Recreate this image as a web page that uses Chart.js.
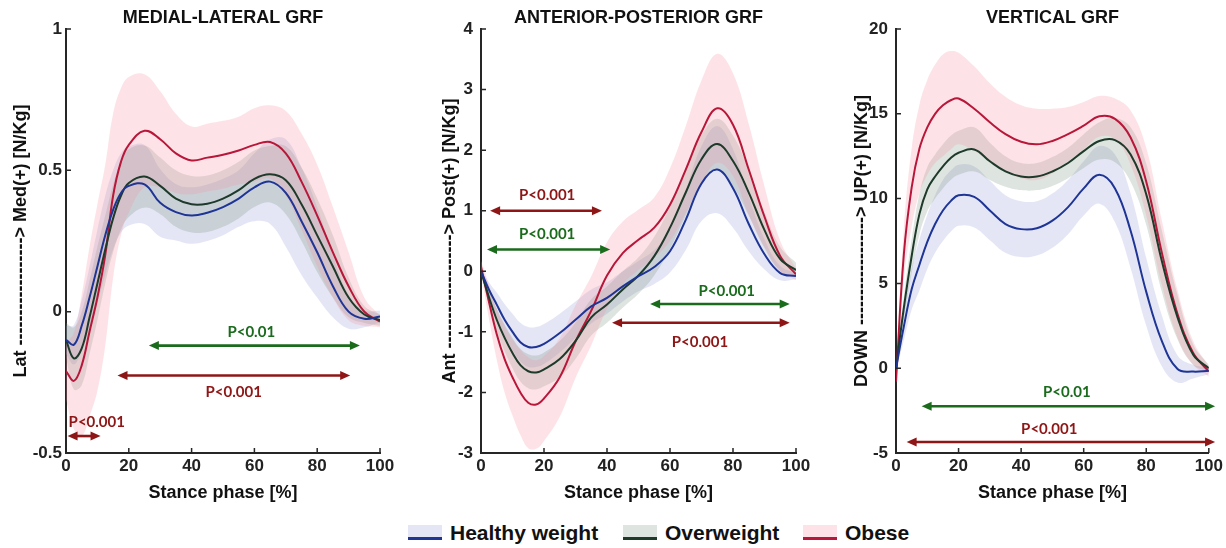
<!DOCTYPE html>
<html>
<head>
<meta charset="utf-8">
<script src="https://cdn.jsdelivr.net/npm/chart.js@4.4.0/dist/chart.umd.min.js"></script>
<style>
  body { margin: 0; background: #fff; width: 1226px; height: 548px; position: relative; overflow: hidden; font-family: 'Liberation Sans', Arial, sans-serif; }
  canvas { position: absolute; top: 0; }
  #legend { position: absolute; top: 521px; left: 0; width: 1226px; height: 24px; }
  .item { position: absolute; top: 0; height: 24px; }
  .swatch { position: absolute; left: 0; top: 4px; width: 34px; height: 15px; }
  .swatch span { position: absolute; left: 0; bottom: 0; width: 100%; height: 3px; }
  .lbl { position: absolute; left: 42px; top: 0; font-weight: bold; font-size: 21px; line-height: 24px; white-space: nowrap; color: #111; }
</style>
</head>
<body>
<canvas id="ml" width="410" height="510" style="left:0"></canvas>
<canvas id="ap" width="410" height="510" style="left:410px"></canvas>
<canvas id="vt" width="406" height="510" style="left:820px"></canvas>
<div id="legend"></div>
<script>
// Stance phase sample points [%]
const stance = [0, 2.5, 5, 7.5, 10, 12.5, 15, 17.5, 20, 25, 30, 35, 40, 45, 50, 55, 60, 65, 70, 75, 80, 85, 90, 95, 100];
const groups = ['Healthy weight', 'Overweight', 'Obese'];

// Medial-lateral GRF (mean, SD) [N/Kg]
const mlHealthy = [-0.10, -0.117, -0.05, 0.05, 0.16, 0.27, 0.36, 0.42, 0.445, 0.45, 0.385, 0.352, 0.34, 0.35, 0.37, 0.40, 0.44, 0.46, 0.42, 0.32, 0.21, 0.09, 0.0, -0.025, -0.017];
const mlHealthySd = [0.05, 0.07, 0.09, 0.11, 0.13, 0.14, 0.14, 0.14, 0.14, 0.14, 0.12, 0.1, 0.1, 0.1, 0.1, 0.1, 0.12, 0.15, 0.19, 0.19, 0.16, 0.11, 0.06, 0.03, 0.02];
const mlOver = [-0.10, -0.165, -0.13, -0.02, 0.10, 0.22, 0.33, 0.41, 0.455, 0.478, 0.445, 0.40, 0.38, 0.382, 0.40, 0.43, 0.47, 0.486, 0.465, 0.38, 0.27, 0.16, 0.05, -0.01, -0.03];
const mlOverSd = [0.06, 0.11, 0.13, 0.13, 0.13, 0.12, 0.12, 0.12, 0.12, 0.11, 0.1, 0.1, 0.1, 0.1, 0.1, 0.1, 0.1, 0.1, 0.12, 0.13, 0.13, 0.11, 0.07, 0.03, 0.02];
const mlObese = [-0.21, -0.245, -0.19, -0.07, 0.05, 0.20, 0.41, 0.53, 0.59, 0.64, 0.61, 0.56, 0.535, 0.545, 0.555, 0.57, 0.59, 0.60, 0.56, 0.46, 0.34, 0.21, 0.09, 0.0, -0.035];
const mlObeseSd = [0.1, 0.17, 0.25, 0.3, 0.33, 0.32, 0.29, 0.26, 0.24, 0.2, 0.17, 0.14, 0.12, 0.12, 0.12, 0.12, 0.13, 0.13, 0.15, 0.17, 0.18, 0.16, 0.12, 0.05, 0.02];

// Anterior-posterior GRF
const apHealthy = [0.0, -0.3, -0.55, -0.8, -1.0, -1.17, -1.25, -1.25, -1.2, -1.02, -0.8, -0.58, -0.44, -0.25, -0.08, 0.07, 0.33, 0.85, 1.45, 1.68, 1.37, 0.78, 0.28, -0.03, -0.08];
const apHealthySd = [0.05, 0.12, 0.2, 0.26, 0.3, 0.32, 0.33, 0.33, 0.33, 0.32, 0.3, 0.28, 0.26, 0.25, 0.25, 0.28, 0.35, 0.5, 0.62, 0.72, 0.65, 0.45, 0.25, 0.12, 0.05];
const apOver = [0.0, -0.42, -0.8, -1.1, -1.35, -1.55, -1.65, -1.67, -1.62, -1.45, -1.15, -0.76, -0.55, -0.3, -0.07, 0.25, 0.72, 1.3, 1.85, 2.1, 1.82, 1.3, 0.68, 0.2, 0.02];
const apOverSd = [0.05, 0.12, 0.18, 0.22, 0.25, 0.27, 0.28, 0.28, 0.28, 0.3, 0.3, 0.3, 0.3, 0.3, 0.3, 0.32, 0.35, 0.38, 0.4, 0.42, 0.42, 0.38, 0.3, 0.2, 0.12];
const apObese = [0.08, -0.5, -1.04, -1.45, -1.75, -2.0, -2.17, -2.2, -2.1, -1.75, -1.16, -0.65, -0.07, 0.3, 0.52, 0.72, 1.1, 1.68, 2.3, 2.69, 2.42, 1.68, 0.9, 0.25, -0.05];
const apObeseSd = [0.1, 0.28, 0.42, 0.55, 0.63, 0.7, 0.75, 0.73, 0.7, 0.65, 0.6, 0.57, 0.55, 0.52, 0.5, 0.5, 0.6, 0.72, 0.85, 0.9, 0.85, 0.75, 0.5, 0.25, 0.1];

// Vertical GRF
const vtHealthy = [0.0, 2.45, 4.65, 6.1, 7.45, 8.5, 9.3, 9.85, 10.2, 10.1, 9.3, 8.5, 8.2, 8.25, 8.7, 9.5, 10.6, 11.4, 10.6, 8.1, 4.5, 1.6, -0.05, -0.2, -0.15];
const vtHealthySd = [0.2, 0.8, 1.2, 1.5, 1.6, 1.7, 1.8, 1.8, 1.8, 1.8, 1.75, 1.7, 1.65, 1.6, 1.6, 1.6, 1.6, 1.7, 2.0, 2.2, 2.0, 1.5, 0.8, 0.4, 0.2];
const vtOver = [0.0, 3.55, 6.6, 9.1, 10.55, 11.3, 11.9, 12.4, 12.7, 12.9, 12.2, 11.6, 11.3, 11.3, 11.6, 12.1, 12.8, 13.4, 13.45, 12.6, 10.25, 6.3, 3.0, 0.8, 0.0];
const vtOverSd = [0.2, 0.7, 1.0, 1.2, 1.3, 1.3, 1.3, 1.3, 1.3, 1.3, 1.1, 0.9, 0.8, 0.8, 0.85, 0.9, 1.0, 1.1, 1.3, 1.6, 1.8, 1.8, 1.3, 0.6, 0.2];
const vtObese = [-0.8, 6.7, 10.65, 12.95, 14.2, 15.0, 15.5, 15.8, 15.9, 15.3, 14.5, 13.8, 13.35, 13.2, 13.4, 13.8, 14.3, 14.85, 14.7, 13.6, 11.0, 6.8, 3.2, 0.9, -0.2];
const vtObeseSd = [0.3, 1.5, 2.3, 2.6, 2.8, 2.9, 3.0, 2.9, 2.7, 2.5, 2.3, 2.2, 2.15, 2.1, 1.9, 1.6, 1.4, 1.2, 1.2, 1.6, 2.0, 1.9, 1.4, 0.7, 0.3];

// Significance bars (stance % range, level, label)
const mlSig = [
  { from: 26.4, to: 93.6, at: -0.12, text: 'P<0.01', textX: 59, textY: -0.072, grp: 1 },
  { from: 16.4, to: 90.5, at: -0.226, text: 'P<0.001', textX: 53.4, textY: -0.283, grp: 2 },
  { from: 0.5, to: 11, at: -0.44, text: 'P<0.001', textX: 9.8, textY: -0.39, grp: 2 }
];
const apSig = [
  { from: 2.9, to: 38.4, at: 1.0, text: 'P<0.001', textX: 21, textY: 1.25, grp: 2 },
  { from: 1.9, to: 41, at: 0.36, text: 'P<0.001', textX: 21, textY: 0.62, grp: 1 },
  { from: 53.7, to: 98, at: -0.54, text: 'P<0.001', textX: 78, textY: -0.32, grp: 1 },
  { from: 41.6, to: 98, at: -0.85, text: 'P<0.001', textX: 69.5, textY: -1.17, grp: 2 }
];
const vtSig = [
  { from: 8.2, to: 102, at: -2.24, text: 'P<0.01', textX: 54.6, textY: -1.4, grp: 1 },
  { from: 3.4, to: 102, at: -4.35, text: 'P<0.001', textX: 49, textY: -3.6, grp: 2 }
];

// Styles
const lineColors = ['#1f3596', '#1d3a2b', '#b8173a'];
const bandColors = ['rgba(147,155,215,0.25)', 'rgba(123,147,127,0.25)', 'rgba(247,143,159,0.25)'];
const swatchColors = ['#e4e6f5', '#dee4df', '#fde3e7'];
const sigColors = ['#1f3596', '#1b6b1d', '#8e1616'];
const axisColor = '#262626';
const textFont = 'Liberation Sans';

function groupSets(mean, sd, g) {
  const pts = k => stance.map((x, i) => ({ x, y: mean[i] + k * sd[i] }));
  return [
    { label: groups[g] + ' +SD', data: pts(1), fill: '+1', backgroundColor: bandColors[g], borderColor: 'transparent', borderWidth: 0, pointRadius: 0, order: 3 - g },
    { label: groups[g] + ' -SD', data: pts(-1), fill: false, borderColor: 'transparent', borderWidth: 0, pointRadius: 0, order: 3 - g },
    { label: groups[g], data: pts(0), fill: false, borderColor: lineColors[g], borderWidth: 2, pointRadius: 0, order: 0 }
  ];
}

function makePanel(id, cfg) {
  const decor = {
    id: 'decor',
    afterDraw(chart) {
      const { ctx, chartArea: a, scales: { x, y } } = chart;
      ctx.save();
      // inward tick marks
      ctx.strokeStyle = axisColor;
      ctx.lineWidth = 1.5;
      ctx.beginPath();
      x.ticks.forEach(t => { const p = x.getPixelForValue(t.value); ctx.moveTo(p, a.bottom); ctx.lineTo(p, a.bottom - 5); });
      y.ticks.forEach(t => { const p = y.getPixelForValue(t.value); ctx.moveTo(a.left, p); ctx.lineTo(a.left + 5, p); });
      ctx.stroke();
      // panel title
      ctx.fillStyle = '#111';
      ctx.font = 'bold 18px "' + textFont + '"';
      ctx.textAlign = 'center';
      ctx.textBaseline = 'middle';
      ctx.fillText(cfg.title, (a.left + a.right) / 2, 18);
      // significance arrows
      cfg.sig.forEach(s => {
        const x0 = x.getPixelForValue(s.from), x1 = x.getPixelForValue(s.to), py = y.getPixelForValue(s.at);
        const head = 10, half = 4.5;
        ctx.strokeStyle = sigColors[s.grp];
        ctx.fillStyle = sigColors[s.grp];
        ctx.lineWidth = 2.6;
        ctx.beginPath(); ctx.moveTo(x0 + head - 1, py); ctx.lineTo(x1 - head + 1, py); ctx.stroke();
        ctx.beginPath(); ctx.moveTo(x0, py); ctx.lineTo(x0 + head, py - half); ctx.lineTo(x0 + head, py + half); ctx.closePath(); ctx.fill();
        ctx.beginPath(); ctx.moveTo(x1, py); ctx.lineTo(x1 - head, py - half); ctx.lineTo(x1 - head, py + half); ctx.closePath(); ctx.fill();
        ctx.font = 'bold 15px Lato';
        ctx.fillText(s.text, x.getPixelForValue(s.textX), y.getPixelForValue(s.textY));
      });
      ctx.restore();
    }
  };

  const tickFont = { family: textFont, size: 17, weight: 'bold' };
  const titleFont = { family: textFont, size: 18, weight: 'bold' };

  new Chart(document.getElementById(id), {
    type: 'line',
    data: {
      datasets: cfg.series.flatMap((s, g) => groupSets(s[0], s[1], g))
    },
    options: {
      responsive: false,
      animation: false,
      events: [],
      layout: { padding: { left: 0, right: cfg.padRight, top: 29, bottom: 0 } },
      elements: { line: { tension: 0.4 } },
      plugins: { legend: { display: false }, tooltip: { enabled: false } },
      scales: {
        x: {
          type: 'linear', min: 0, max: 100,
          afterFit: s => { s.height = 57; },
          grid: { display: false, drawTicks: false },
          border: { display: true, color: axisColor, width: 2 },
          ticks: { stepSize: 20, padding: 3, color: '#222', font: tickFont },
          title: { display: true, text: 'Stance phase [%]', color: '#111', font: titleFont, padding: { top: 0, bottom: 6 } }
        },
        y: {
          type: 'linear', min: cfg.min, max: cfg.max,
          afterFit: s => { s.width = cfg.axisLeft; },
          grid: { display: false, drawTicks: false },
          border: { display: true, color: axisColor, width: 2 },
          ticks: { stepSize: cfg.step, padding: cfg.tickPad, color: '#222', font: tickFont, callback: v => String(+v.toFixed(2)) },
          title: { display: true, text: cfg.yTitle, color: '#111', font: titleFont, padding: { top: cfg.titlePad, bottom: 0 } }
        }
      }
    },
    plugins: [decor]
  });
}

makePanel('ml', {
  title: 'MEDIAL-LATERAL GRF', yTitle: 'Lat ------------------> Med(+) [N/Kg]',
  min: -0.5, max: 1, step: 0.5,
  series: [[mlHealthy, mlHealthySd], [mlOver, mlOverSd], [mlObese, mlObeseSd]],
  sig: mlSig, axisLeft: 66, padRight: 30, tickPad: 4, titlePad: 10
});
makePanel('ap', {
  title: 'ANTERIOR-POSTERIOR GRF', yTitle: 'Ant -------------------> Post(+) [N/Kg]',
  min: -3, max: 4, step: 1,
  series: [[apHealthy, apHealthySd], [apOver, apOverSd], [apObese, apObeseSd]],
  sig: apSig, axisLeft: 71, padRight: 24, tickPad: 8, titlePad: 29
});
makePanel('vt', {
  title: 'VERTICAL GRF', yTitle: 'DOWN ------------------> UP(+) [N/Kg]',
  min: -5, max: 20, step: 5,
  series: [[vtHealthy, vtHealthySd], [vtOver, vtOverSd], [vtObese, vtObeseSd]],
  sig: vtSig, axisLeft: 76, padRight: 15, tickPad: 8, titlePad: 31
});

// Legend
const legendLeft = [408, 623, 803];
const legend = document.getElementById('legend');
groups.forEach((name, g) => {
  const item = document.createElement('div');
  item.className = 'item';
  item.style.left = legendLeft[g] + 'px';
  item.innerHTML = `<div class="swatch" style="background:${swatchColors[g]}"><span style="background:${lineColors[g]}"></span></div><div class="lbl">${name}</div>`;
  legend.appendChild(item);
});
</script>
</body>
</html>
